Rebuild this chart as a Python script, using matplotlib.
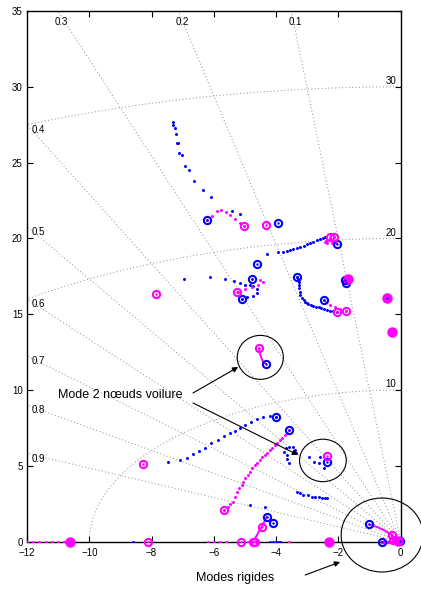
import numpy as np
import matplotlib
matplotlib.use("Agg")
import matplotlib.pyplot as plt
from matplotlib.patches import Ellipse

plt.rcParams['font.family'] = ['Liberation Sans', 'DejaVu Sans']

# --- pole loci (real part, imaginary part) ---
blue_a_x = [-7.32, -7.30, -7.26, -7.21, -7.19, -7.16, -7.12, -7.03, -6.94, -6.80, -6.64, -6.36, -6.10, -5.42, -5.16]
blue_a_y = [27.65, 27.5, 27.3, 26.9, 26.3, 26.3, 25.65, 25.5, 24.8, 24.5, 23.8, 23.2, 22.7, 21.8, 21.6]

blue_b_x = [-4.30, -3.93, -3.78, -3.66, -3.55, -3.45, -3.34, -3.23, -3.12, -3.02, -2.91, -2.81, -2.70, -2.59, -2.50, -2.42]
blue_b_y = [18.94, 19.08, 19.12, 19.18, 19.25, 19.31, 19.38, 19.45, 19.53, 19.62, 19.70, 19.78, 19.86, 19.95, 20.02, 20.08]

blue_c_x = [-6.97, -6.12, -5.64, -5.35, -5.16, -5.00, -4.85, -4.73, -4.60, -4.62, -4.73, -4.94, -5.11]
blue_c_y = [17.32, 17.43, 17.30, 17.18, 17.07, 16.92, 16.90, 16.85, 16.63, 16.37, 16.19, 16.15, 16.02]

blue_d_x = [-3.34, -3.30, -3.27, -3.26, -3.26, -3.25, -3.23, -3.18, -3.12, -3.07, -3.02, -2.97, -2.89, -2.81, -2.72, -2.64, -2.56, -2.48, -2.38, -2.27, -2.16, -2.05]
blue_d_y = [17.47, 17.30, 17.14, 16.92, 16.70, 16.48, 16.26, 16.04, 15.93, 15.82, 15.74, 15.67, 15.60, 15.53, 15.49, 15.45, 15.38, 15.32, 15.27, 15.22, 15.18, 15.14]

blue_e_x = [-7.48, -7.09, -6.85, -6.66, -6.48, -6.28, -6.10, -5.88, -5.67, -5.48, -5.32, -5.16, -5.00, -4.81, -4.62, -4.41, -4.20, -4.00]
blue_e_y = [5.26, 5.38, 5.53, 5.75, 5.97, 6.19, 6.48, 6.70, 6.96, 7.18, 7.31, 7.47, 7.69, 7.90, 8.06, 8.19, 8.30, 8.23]

blue_f_x = [-3.74, -3.68, -3.58, -3.47, -3.39, -3.36, -3.66, -3.64, -3.58, -2.94, -2.80, -2.59, -2.61, -2.48]
blue_f_y = [5.92, 6.15, 6.25, 6.21, 6.04, 5.86, 5.71, 5.42, 5.20, 5.60, 5.26, 5.60, 5.16, 4.83]

blue_g_x = [-4.84, -4.36, -3.34, -3.23, -3.13, -2.97, -2.86, -2.75, -2.64, -2.54, -2.43, -2.38]
blue_g_y = [2.41, 2.30, 3.28, 3.18, 3.07, 3.07, 2.96, 2.96, 2.92, 2.89, 2.85, 2.85]

blue_axis_x = [-4.20, -4.10, -4.00, -3.93, -3.87, -8.6]
blue_axis_y = [0, 0, 0, 0, 0, 0]

mag_a_x = [-6.21, -6.05, -5.91, -5.78, -5.62, -5.48, -5.32, -5.16, -5.02]
mag_a_y = [21.19, 21.50, 21.80, 21.87, 21.75, 21.54, 21.30, 21.03, 20.79]

mag_b_x = [-2.13, -2.27, -2.40, -2.43, -2.36, -2.22, -2.08]
mag_b_y = [20.07, 19.97, 19.84, 19.78, 19.67, 19.67, 19.67]

mag_c_x = [-4.78, -4.52, -4.43, -4.57, -4.78, -5.00, -5.21]
mag_c_y = [17.32, 17.25, 17.14, 16.92, 16.77, 16.64, 16.48]

mag_d_x = [-2.46, -2.40, -2.27, -2.11, -1.95, -1.76]
mag_d_y = [15.93, 15.82, 15.60, 15.45, 15.34, 15.20]

mag_e_x = [-3.58, -3.64, -3.71, -3.80, -3.88, -3.96, -4.04, -4.12, -4.20, -4.28, -4.36, -4.44, -4.52, -4.60, -4.68,
           -4.76, -4.84, -4.92, -5.00, -5.06, -5.11, -5.19, -5.27, -5.33, -5.39, -5.47, -5.55, -5.66]
mag_e_y = [7.35, 7.18, 7.02, 6.86, 6.70, 6.53, 6.37, 6.20, 6.04, 5.87, 5.71, 5.55, 5.38, 5.21, 5.05,
           4.83, 4.61, 4.39, 4.17, 3.95, 3.73, 3.50, 3.28, 2.95, 2.63, 2.46, 2.30, 2.08]

mag_f_x = [-4.55, -4.52, -4.47, -4.42, -4.33]
mag_f_y = [12.74, 12.40, 12.08, 11.86, 11.71]

mag_g_x = [-4.30, -4.36, -4.42, -4.46, -4.55, -4.62, -4.70]
mag_g_y = [1.64, 1.40, 1.15, 0.98, 0.70, 0.40, 0.15]

mag_h_x = [-1.01, -0.85, -0.70, -0.55, -0.42, -0.29]
mag_h_y = [1.13, 1.02, 0.90, 0.76, 0.60, 0.43]

mag_axis_x = [-12.0, -11.8, -11.6, -11.4, -11.2, -11.0, -10.8, -6.2, -6.0, -5.8, -5.6, -4.9, -3.6, -0.61, -0.45, -0.30, -0.15, 0.0]
mag_axis_y = [0] * 18

# --- pole markers ---
blue_pole_x = [-6.21, -3.94, -2.05, -4.62, -4.78, -5.11, -3.34, -2.46, -1.79, -1.76, -4.33, -4.00, -3.58, -2.37,
               -4.30, -4.09, -1.01, -0.61, -0.02, -0.45]
blue_pole_y = [21.19, 20.99, 19.60, 18.33, 17.32, 16.02, 17.47, 15.93, 17.25, 17.03, 11.71, 8.23, 7.35, 5.27,
               1.64, 1.24, 1.13, 0.0, 0.05, 16.08]

mag_pole_x = [-5.02, -4.33, -2.27, -2.13, -5.25, -2.05, -1.76, -7.86, -4.55, -2.36, -8.28, -5.66, -4.46, -0.29,
              -0.24, -5.13, -4.75, -4.68, -8.10]
mag_pole_y = [20.79, 20.88, 20.10, 20.10, 16.48, 15.16, 15.20, 16.35, 12.74, 5.64, 5.09, 2.08, 0.98, 0.43,
              0.10, 0, 0, 0, 0]

mag_full_x = [-1.68, -0.45, -0.27, -10.62, -2.32, -0.10]
mag_full_y = [17.32, 16.08, 13.84, 0, 0, 0.05]

zeta_vals = [0.1, 0.2, 0.3, 0.4, 0.5, 0.6, 0.7, 0.8, 0.9]
wn_vals = [10, 20, 30]

BLUE = (0, 0, 1)
MAG = (1, 0, 1)

fig = plt.figure(figsize=(4.21, 5.89), dpi=100)
ax = fig.add_axes([0.064, 0.0806, 0.888, 0.9007])
ax.set_xlim(-12, 0)
ax.set_ylim(0, 35)

# s-plane grid: constant damping rays and natural frequency arcs
grid_kw = dict(color='0.55', lw=0.7, ls=(0, (1, 2.5)), zorder=1)
for z in zeta_vals:
    r = np.array([0, 60])
    ax.plot(-z * r, np.sqrt(1 - z**2) * r, **grid_kw)
    if z <= 0.3:
        ax.text(-35 * z / np.sqrt(1 - z**2) + 0.12, 34.3, f"{z:.1f}", fontsize=7, ha='center', va='center')
    else:
        ax.text(-11.85, 12 * np.sqrt(1 - z**2) / z - 0.35, f"{z:.1f}", fontsize=7, ha='left', va='center')
th = np.linspace(np.pi / 2, np.pi, 200)
for w in wn_vals:
    ax.plot(w * np.cos(th), w * np.sin(th), **grid_kw)
    ax.text(-0.15, w + 0.05, f"{w}", fontsize=7, ha='right', va='bottom')

# loci as dots
dot_kw = dict(ls='none', marker='.', ms=2.3, zorder=3)
for xs, ys in [(blue_a_x, blue_a_y), (blue_b_x, blue_b_y), (blue_c_x, blue_c_y), (blue_d_x, blue_d_y),
               (blue_e_x, blue_e_y), (blue_f_x, blue_f_y), (blue_g_x, blue_g_y), (blue_axis_x, blue_axis_y)]:
    ax.plot(xs, ys, color=BLUE, **dot_kw)
for xs, ys in [(mag_a_x, mag_a_y), (mag_b_x, mag_b_y), (mag_c_x, mag_c_y), (mag_d_x, mag_d_y),
               (mag_e_x, mag_e_y), (mag_axis_x, mag_axis_y)]:
    ax.plot(xs, ys, color=MAG, **dot_kw)
for xs, ys in [(mag_f_x, mag_f_y), (mag_g_x, mag_g_y), (mag_h_x, mag_h_y)]:
    ax.plot(xs, ys, color=MAG, lw=1.4, zorder=3)
ax.plot([-0.61, 0], [0, 0], color=MAG, lw=2.5, zorder=3, clip_on=False)

# pole markers: open rings with a centre dot
ring_kw = dict(ls='none', marker='o', ms=5.2, mew=1.5, mfc='none', zorder=4, clip_on=False)
ax.plot(blue_pole_x, blue_pole_y, mec=BLUE, **ring_kw)
ax.plot(mag_pole_x, mag_pole_y, mec=MAG, **ring_kw)
ax.plot(blue_pole_x, blue_pole_y, ls='none', marker='.', ms=1.5, color=BLUE, zorder=5)
ax.plot(mag_pole_x, mag_pole_y, ls='none', marker='.', ms=1.5, color=MAG, zorder=5)
ax.plot(mag_full_x, mag_full_y, ls='none', marker='o', ms=6.3, mew=1.2, mfc=MAG, mec=MAG, zorder=4, clip_on=False)

# highlighted modes
for cx, cy, w, h in [(-4.51, 12.15, 1.48, 2.9), (-2.50, 5.35, 1.5, 2.8), (-0.60, 0.43, 2.63, 4.88)]:
    ax.add_patch(Ellipse((cx, cy), w, h, fill=False, ec='k', lw=0.8, zorder=6, clip_on=False))

arrow = dict(arrowstyle='-|>', color='k', lw=0.8, mutation_scale=8, shrinkA=0, shrinkB=0)
ax.text(-11.0, 9.66, "Mode 2 nœuds voilure", fontsize=9, ha='left', va='center')
ax.annotate("", xy=(-5.22, 11.51), xytext=(-6.67, 9.80), arrowprops=arrow)
ax.annotate("", xy=(-3.30, 5.71), xytext=(-6.67, 9.14), arrowprops=arrow)
ax.text(-5.32, -2.41, "Modes rigides", fontsize=9, ha='center', va='center')
ax.annotate("", xy=(-1.95, -1.35), xytext=(-3.07, -2.21), arrowprops=arrow, annotation_clip=False)

ax.set_xticks(range(-12, 1, 2))
ax.set_yticks(range(0, 36, 5))
ax.tick_params(direction='in', length=4, width=0.8, top=True, right=True, labelsize=7)
ax.tick_params(axis='x', pad=4.5)
ax.tick_params(axis='y', pad=3)
for s in ax.spines.values():
    s.set_linewidth(1.0)

fig.savefig('out.png', dpi=100)
